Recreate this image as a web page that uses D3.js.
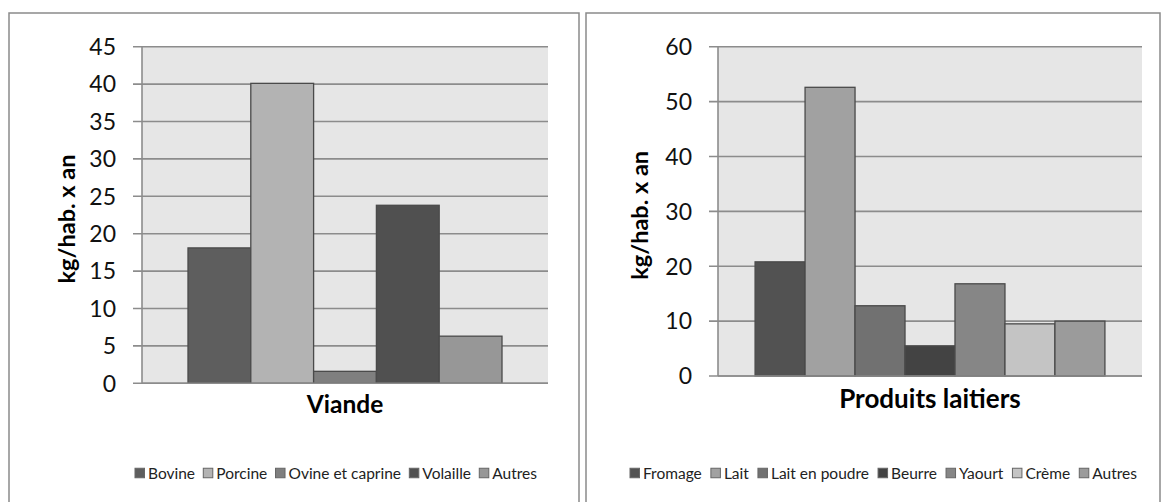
<!DOCTYPE html>
<html><head><meta charset="utf-8">
<script src="https://cdn.jsdelivr.net/npm/d3@7"></script>
<style>
html,body{margin:0;padding:0;background:#fff;}
svg{display:block;font-family:Lato, "Open Sans", sans-serif;}
</style></head>
<body>
<svg id="chart" width="1161" height="502"></svg>
<script>
// ---- data ----
const meatCategories = ["Bovine","Porcine","Ovine et caprine","Volaille","Autres"];
const meatValues = [18.1, 40.1, 1.6, 23.8, 6.3];
const meatColors = ["#5e5e5e","#b3b3b3","#7f7f7f","#505050","#979797"];
const meatTicks = [0,5,10,15,20,25,30,35,40,45];
const meatTitle = "Viande";

const dairyCategories = ["Fromage","Lait","Lait en poudre","Beurre","Yaourt","Crème","Autres"];
const dairyValues = [20.8, 52.6, 12.8, 5.5, 16.8, 9.5, 10.0];
const dairyColors = ["#525252","#a1a1a1","#717171","#434343","#868686","#c4c4c4","#9b9b9b"];
const dairyTicks = [0,10,20,30,40,50,60];
const dairyTitle = "Produits laitiers";

const yTitle = "kg/hab. x an";

const svg = d3.select("#chart");

function drawPanel(cfg){
  const g = svg.append("g");
  // outer box
  g.append("rect").attr("x",cfg.box[0]).attr("y",cfg.box[1])
    .attr("width",cfg.box[2]-cfg.box[0]).attr("height",cfg.box[3]-cfg.box[1])
    .attr("fill","#fff").attr("stroke","#8a8a8a").attr("stroke-width",1.5);

  const y = d3.scaleLinear().domain([0, d3.max(cfg.ticks)]).range([cfg.plot.bottom, cfg.plot.top]);
  const cat = d3.scaleBand().domain([cfg.title]).range([cfg.plot.left, cfg.plot.right]).paddingInner(0).paddingOuter(cfg.outerPad);
  const x = d3.scaleBand().domain(cfg.categories).range([cat(cfg.title), cat(cfg.title)+cat.bandwidth()]).padding(0);

  // plot background
  g.append("rect").attr("x",cfg.plot.left).attr("y",cfg.plot.top)
    .attr("width",cfg.plot.right-cfg.plot.left).attr("height",cfg.plot.bottom-cfg.plot.top)
    .attr("fill","#e6e6e6");

  // gridlines
  g.append("g").selectAll("line").data(cfg.ticks).join("line")
    .attr("x1",cfg.plot.left-9).attr("x2",cfg.plot.right)
    .attr("y1",d=>y(d)).attr("y2",d=>y(d))
    .attr("stroke","#8c8c8c").attr("stroke-width",1.6);

  // y axis line
  g.append("line").attr("x1",cfg.plot.left).attr("x2",cfg.plot.left)
    .attr("y1",cfg.plot.top).attr("y2",cfg.plot.bottom)
    .attr("stroke","#8c8c8c").attr("stroke-width",1.6);

  // tick labels
  g.append("g").selectAll("text").data(cfg.ticks).join("text")
    .attr("x",cfg.plot.left-26).attr("y",d=>y(d)).attr("dy","0.36em")
    .attr("text-anchor","end").attr("font-size",23).attr("fill","#111")
    .text(d=>d);

  // bars
  g.append("g").selectAll("rect").data(cfg.values).join("rect")
    .attr("x",(d,i)=>x(cfg.categories[i]))
    .attr("width",x.bandwidth())
    .attr("y",d=>y(d)).attr("height",d=>y(0)-y(d))
    .attr("fill",(d,i)=>cfg.colors[i])
    .attr("stroke","#4a4a4a").attr("stroke-width",1.3);

  // baseline
  g.append("line").attr("x1",cfg.plot.left).attr("x2",cfg.plot.right)
    .attr("y1",y(0)).attr("y2",y(0)).attr("stroke","#8c8c8c").attr("stroke-width",1.6);

  // x title
  g.append("text").attr("x",(cfg.plot.left+cfg.plot.right)/2).attr("y",cfg.plot.bottom+cfg.xTitleOff)
    .attr("text-anchor","middle").attr("font-size",cfg.xTitleSize).attr("font-weight","bold").attr("fill","#000")
    .text(cfg.title);

  // y title
  g.append("text").attr("transform",`translate(${cfg.yTitleX},${(cfg.plot.top+cfg.plot.bottom)/2+4}) rotate(-90)`)
    .attr("text-anchor","middle").attr("dy","0.35em").attr("font-size",23.5).attr("font-weight","bold").attr("fill","#000")
    .text(yTitle);

  // legend
  const lg = g.append("g");
  const items = lg.selectAll("g").data(cfg.categories).join("g");
  items.append("rect").attr("width",9.5).attr("height",9.5).attr("y",-4.75)
    .attr("fill",(d,i)=>cfg.colors[i]).attr("stroke","#666").attr("stroke-width",1);
  const texts = items.append("text").attr("x",13).attr("dy","0.36em").attr("font-size",15.5).attr("fill","#222").text(d=>d);
  const widths = texts.nodes().map(n=>13+n.getComputedTextLength());
  const total = d3.sum(widths);
  const gap = (cfg.legend[1]-cfg.legend[0]-total)/(cfg.categories.length-1);
  let cx = cfg.legend[0];
  items.attr("transform",(d,i)=>{const t=`translate(${cx},${cfg.legend[2]})`; cx+=widths[i]+gap; return t;});
}

drawPanel({
  box:[9,13,579,520],
  plot:{left:142,right:548,top:46.7,bottom:383.3},
  outerPad:0.1465, xTitleOff:30, xTitleSize:24.5,
  ticks:meatTicks, categories:meatCategories, values:meatValues, colors:meatColors,
  title:meatTitle, yTitleX:67, legend:[135,537,473]
});
drawPanel({
  box:[586,13,1160,520],
  plot:{left:718,right:1142,top:46.7,bottom:376},
  outerPad:0.106, xTitleOff:32, xTitleSize:26,
  ticks:dairyTicks, categories:dairyCategories, values:dairyValues, colors:dairyColors,
  title:dairyTitle, yTitleX:640, legend:[630,1137,473]
});
</script>
</body></html>
